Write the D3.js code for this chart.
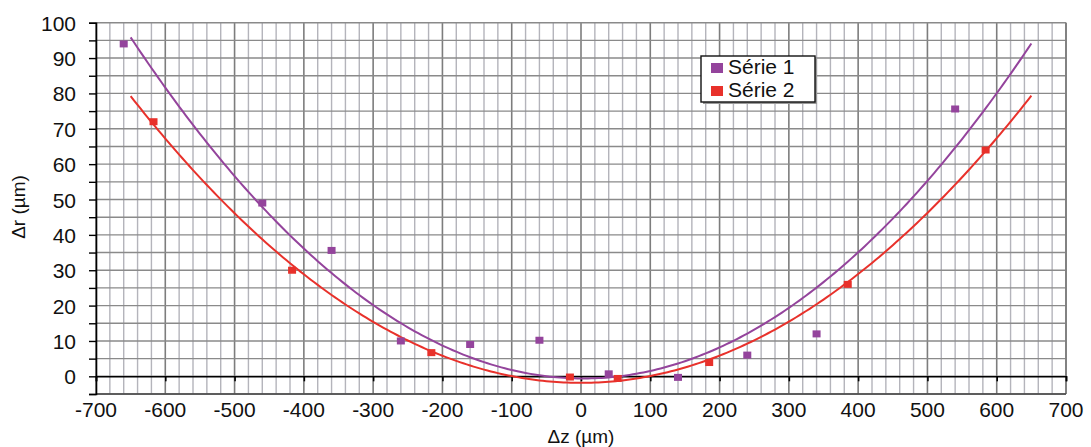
<!DOCTYPE html>
<html><head><meta charset="utf-8">
<script src="https://cdn.jsdelivr.net/npm/d3@7"></script>
<style>body{margin:0;background:#fff}text{font-family:"Liberation Sans",Arial,sans-serif;fill:#111}</style>
</head><body><svg id="c" width="1091" height="447"></svg>
<script>
const serie1X = [-660,-460,-360,-260,-160,-60,40,140,240,340,540];
const serie1Y = [94,49,35.6,10,9,10.2,0.7,-0.3,6,12,75.6];
const serie2X = [-617,-417,-216,-16,53,185,385,584];
const serie2Y = [72,30,6.7,-0.2,-0.6,3.9,26,64];
const seriesNames = ["Série 1","Série 2"];
const seriesColors = ["#94449c","#e8312b"];
const xTicks = d3.range(-700,701,100);
const yTicks = d3.range(0,101,10);
const trendRange = [-650,650];

const svg = d3.select("#c");
const L=96,R=1066,T=22.7,B=394;
const x = d3.scaleLinear().domain([-700,700]).range([L,R]);
const y = d3.scaleLinear().domain([-5,100]).range([B,T]);

// grid
const g = svg.append("g");
d3.range(-700,701,20).forEach(v=>{
  const major = v%100===0;
  g.append("line").attr("x1",x(v)).attr("x2",x(v)).attr("y1",T).attr("y2",B)
   .attr("stroke",major?"#7d7d7d":"#b4b4bb").attr("stroke-width",major?1.6:1.4);
});
d3.range(-5,101,5).forEach(v=>{
  g.append("line").attr("x1",L).attr("x2",R).attr("y1",y(v)).attr("y2",y(v))
   .attr("stroke","#8a8a8a").attr("stroke-width",1.4);
});
g.append("line").attr("x1",R).attr("x2",R).attr("y1",T).attr("y2",B).attr("stroke","#7d7d7d").attr("stroke-width",1.6);
g.append("line").attr("x1",L).attr("x2",R).attr("y1",B).attr("y2",B).attr("stroke","#444").attr("stroke-width",1.4);

// y axis
const yAxis = d3.axisLeft(y).tickValues(d3.range(-5,101,5)).tickSize(7).tickFormat(d=>yTicks.includes(d)?d:"");
const ya = svg.append("g").attr("transform",`translate(${L},0)`).call(yAxis);
ya.select(".domain").attr("stroke","#000").attr("stroke-width",1.6);
ya.selectAll(".tick line").attr("stroke","#000").attr("stroke-width",1.4);
ya.selectAll(".tick text").attr("font-size",21).attr("x",-20).attr("dy","0.36em").style("font-family","Liberation Sans, Arial").style("fill","#111");

// x axis at zero
const xAxis = d3.axisBottom(x).tickValues(xTicks).tickSize(5).tickFormat("");
const xa = svg.append("g").attr("transform",`translate(0,${y(0)})`).call(xAxis);
xa.select(".domain").attr("stroke","#000").attr("stroke-width",1.6);
xa.selectAll(".tick line").attr("stroke","#000").attr("stroke-width",1.6);
svg.append("g").selectAll("text").data(xTicks).join("text")
  .attr("x",d=>x(d)).attr("y",417).attr("text-anchor","middle").attr("font-size",21).text(d=>d);

// axis titles
svg.append("text").attr("x",581).attr("y",443).attr("text-anchor","middle").attr("font-size",19).text("Δz (µm)");
svg.append("text").attr("transform","translate(25,207) rotate(-90)").attr("text-anchor","middle").attr("font-size",19).text("Δr (µm)");

// quadratic least squares trend lines
function fit(xs,ys){
  let s=[0,0,0,0,0],t=[0,0,0];
  xs.forEach((xv,i)=>{let p=1;for(let k=0;k<5;k++){s[k]+=p;if(k<3)t[k]+=p*ys[i];p*=xv;}});
  const A=[[s[0],s[1],s[2],t[0]],[s[1],s[2],s[3],t[1]],[s[2],s[3],s[4],t[2]]];
  for(let i=0;i<3;i++){for(let j=i+1;j<3;j++){const f=A[j][i]/A[i][i];for(let k=i;k<4;k++)A[j][k]-=f*A[i][k];}}
  const c=[0,0,0];
  for(let i=2;i>=0;i--){let v=A[i][3];for(let k=i+1;k<3;k++)v-=A[i][k]*c[k];c[i]=v/A[i][i];}
  return xv=>c[0]+c[1]*xv+c[2]*xv*xv;
}
const series=[[serie1X,serie1Y],[serie2X,serie2Y]];
const line=d3.line().x(d=>x(d[0])).y(d=>y(d[1]));
series.forEach(([xs,ys],i)=>{
  const f=fit(xs,ys);
  const pts=d3.range(trendRange[0],trendRange[1]+0.1,5).map(v=>[v,f(v)]);
  svg.append("path").attr("d",line(pts)).attr("fill","none").attr("stroke",seriesColors[i]).attr("stroke-width",2);
});
series.forEach(([xs,ys],i)=>{
  svg.append("g").selectAll("rect").data(xs.map((v,k)=>[v,ys[k]])).join("rect")
   .attr("x",d=>x(d[0])-4).attr("y",d=>y(d[1])-3.5).attr("width",8).attr("height",7).attr("fill",seriesColors[i]);
});

// legend
const lg=svg.append("g");
lg.append("rect").attr("x",703).attr("y",58).attr("width",114).attr("height",46).attr("fill","#999");
lg.append("rect").attr("x",701).attr("y",56).attr("width",114).attr("height",46).attr("fill","#fff").attr("stroke","#111").attr("stroke-width",1.4);
seriesNames.forEach((n,i)=>{
  lg.append("rect").attr("x",711).attr("y",63+i*23).attr("width",12).attr("height",10).attr("fill",seriesColors[i]);
  lg.append("text").attr("x",728).attr("y",74+i*23).attr("font-size",21).text(n);
});
</script></body></html>
